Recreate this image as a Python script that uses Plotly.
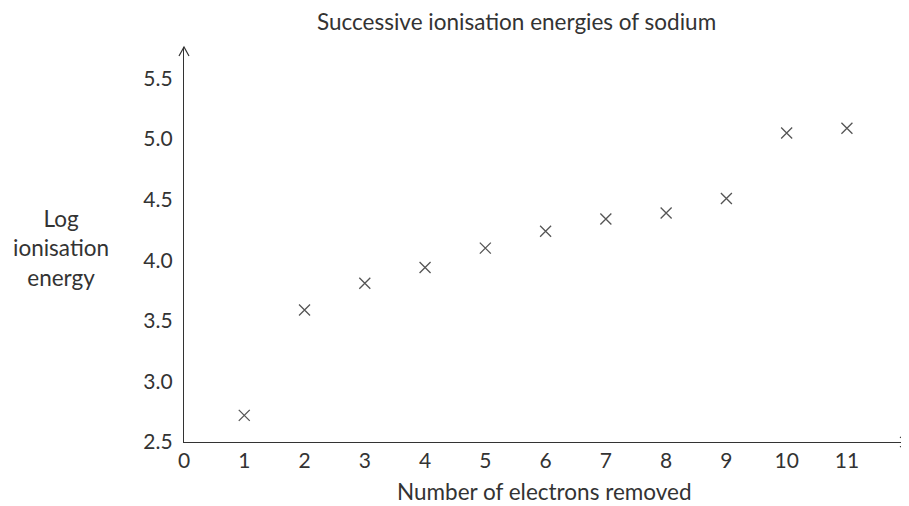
import plotly.graph_objects as go

electrons_removed = [1, 2, 3, 4, 5, 6, 7, 8, 9, 10, 11]
log_ie = [2.72, 3.59, 3.81, 3.94, 4.10, 4.24, 4.34, 4.39, 4.51, 5.05, 5.09]
x_ticks = list(range(0, 12))
y_ticks = [2.5, 3.0, 3.5, 4.0, 4.5, 5.0, 5.5]
y_tick_text = ["2.5", "3.0", "3.5", "4.0", "4.5", "5.0", "5.5"]

FONT = "Lato"
INK = "#333333"
TICK = 21
LABEL = 22.5

fig = go.Figure()
fig.add_trace(go.Scatter(
    x=electrons_removed, y=log_ie, mode="markers",
    marker=dict(symbol="x-thin", size=11, line=dict(width=1.3, color="#555555")),
    showlegend=False, hoverinfo="x+y",
))

XMAX = 12.03
YMAX = 5.76
# page body has an 8px margin; plot area spans x 184..909, y 47..442 on screen
fig.update_layout(
    width=901, height=498,
    margin=dict(l=176, r=0, t=39, b=64),
    paper_bgcolor="white", plot_bgcolor="white",
    font=dict(family=FONT, size=TICK, color=INK),
    xaxis=dict(range=[0, XMAX], tickvals=x_ticks, showgrid=False, zeroline=False,
               showline=True, linecolor=INK, linewidth=1.2, ticks="",
               tickfont=dict(size=TICK, color=INK), ticklabelstandoff=0),
    yaxis=dict(range=[2.5, YMAX], tickvals=y_ticks, ticktext=y_tick_text, showgrid=False, zeroline=False,
               showline=True, linecolor=INK, linewidth=1.2, ticks="",
               tickfont=dict(size=TICK, color=INK), ticklabelstandoff=6),
)

# title
fig.add_annotation(text="Successive ionisation energies of sodium", xref="paper", yref="paper",
                   x=(516 - 184) / 725, y=1, yshift=47 - 21, showarrow=False, xanchor="center", yanchor="middle",
                   font=dict(size=LABEL, color=INK))
# x axis title
fig.add_annotation(text="Number of electrons removed", xref="paper", yref="paper",
                   x=(544 - 184) / 725, y=0, yshift=-(491 - 442), showarrow=False, xanchor="center", yanchor="middle",
                   borderpad=0, font=dict(size=LABEL, color=INK))
# y axis label
fig.add_annotation(text="Log<br>ionisation<br>energy", xref="paper", yref="paper",
                   x=0, xshift=61 - 184, y=(442 - 248) / 395, showarrow=False, xanchor="center", yanchor="middle",
                   align="center", font=dict(size=LABEL, color=INK))

# arrowheads (open chevrons)
fig.add_shape(type="path", xref="paper", yref="paper", xsizemode="pixel", ysizemode="pixel",
              xanchor=0, yanchor=1, path="M -5,-9 L 0,0 L 5,-9",
              line=dict(color=INK, width=1.2))
fig.add_shape(type="path", xref="paper", yref="paper", xsizemode="pixel", ysizemode="pixel",
              xanchor=1, yanchor=0, path="M -9,5 L -1,0 L -9,-5",
              line=dict(color=INK, width=1.2))

fig.write_html("out.html")
